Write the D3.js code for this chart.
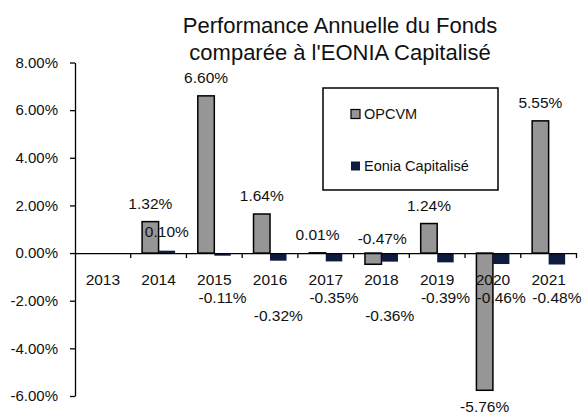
<!DOCTYPE html>
<html>
<head>
<meta charset="utf-8">
<script src="https://cdn.jsdelivr.net/npm/d3@7"></script>
<style>
  body { margin: 0; background: #fff; }
  svg { display: block; font-family: "Liberation Sans", Arial, sans-serif; }
</style>
</head>
<body>
<svg id="chart"></svg>
<script>
// Data
const years = ["2013", "2014", "2015", "2016", "2017", "2018", "2019", "2020", "2021"];
const opcvm = [null, 1.32, 6.60, 1.64, 0.01, -0.47, 1.24, -5.76, 5.55];
const eonia = [null, 0.10, -0.11, -0.32, -0.35, -0.36, -0.39, -0.46, -0.48];
const yTicks = [-6, -4, -2, 0, 2, 4, 6, 8];
const seriesNames = ["OPCVM", "Eonia Capitalisé"];
const titleLines = ["Performance Annuelle du Fonds", "comparée à l'EONIA Capitalisé"];

// hand-moved labels in the original
const opcvmLabelAboveZero = ["2018"];
const eoniaLabelLower = ["2016", "2018"];

const width = 588, height = 412;
const colors = ["#969696", "#0d1b3e"];

const svg = d3.select("#chart")
    .attr("width", width)
    .attr("height", height);

const y = d3.scaleLinear().domain([-6, 8]).range([396, 62.5]);
const x = d3.scaleBand().domain(years).range([75, 576.5]).paddingInner(0).paddingOuter(0);
const barW = 16.5;
const groupOffset = (x.bandwidth() - 2 * barW) / 2;

// title
svg.selectAll(".title")
    .data(titleLines)
    .enter()
    .append("text")
    .attr("class", "title")
    .attr("x", 340)
    .attr("y", (d, i) => 33 + i * 27)
    .attr("text-anchor", "middle")
    .style("font-size", "22px")
    .attr("fill", "#111")
    .text(d => d);

// y axis
const yAxis = d3.axisLeft(y)
    .tickValues(yTicks)
    .tickSize(5)
    .tickSizeOuter(0)
    .tickFormat(d => d.toFixed(2) + "%");

const gy = svg.append("g")
    .attr("transform", "translate(75,0)")
    .call(yAxis);
gy.select(".domain").attr("stroke", "#000").attr("stroke-width", 1.3);
gy.selectAll(".tick line").attr("stroke", "#000").attr("stroke-width", 1.3);
gy.selectAll(".tick text")
    .attr("x", -17)
    .style("font-size", "15px")
    .style("font-family", "'Liberation Sans', Arial, sans-serif")
    .attr("fill", "#111");

// bars
const rows = years.map((yr, i) => ({ year: yr, vals: [opcvm[i], eonia[i]] }));

const groups = svg.selectAll(".grp")
    .data(rows)
    .enter()
    .append("g")
    .attr("class", "grp")
    .attr("transform", d => `translate(${x(d.year) + groupOffset},0)`);

groups.selectAll("rect")
    .data(d => d.vals.map((v, k) => ({ v, k })).filter(e => e.v !== null))
    .enter()
    .append("rect")
    .attr("x", d => d.k * barW)
    .attr("y", d => y(Math.max(0, d.v)))
    .attr("width", barW)
    .attr("height", d => Math.abs(y(d.v) - y(0)))
    .attr("fill", d => colors[d.k])
    .attr("stroke", d => d.k === 0 ? "#000" : "none")
    .attr("stroke-width", 1.5);

// x axis on zero line
const xAxis = d3.axisBottom(x).tickSize(0).tickSizeOuter(0).tickPadding(0);
const gx = svg.append("g")
    .attr("transform", `translate(0,${y(0)})`)
    .call(xAxis);
gx.select(".domain").attr("stroke", "#000").attr("stroke-width", 1.3);
gx.selectAll(".tick text")
    .attr("y", 27)
    .attr("dy", "0.35em")
    .style("font-size", "15.5px")
    .style("font-family", "'Liberation Sans', Arial, sans-serif")
    .attr("fill", "#111");

// category separators
const bounds = years.map(yr => x(yr)).concat([x.range()[1]]).slice(1);
gx.selectAll(".sep")
    .data(bounds)
    .enter()
    .append("line")
    .attr("class", "sep")
    .attr("x1", d => d).attr("x2", d => d)
    .attr("y1", 0).attr("y2", 5)
    .attr("stroke", "#000")
    .attr("stroke-width", 1.3);

// data labels
const fmt = v => v.toFixed(2) + "%";
function labelY(d) {
    if (d.k === 0) {
        if (opcvmLabelAboveZero.includes(d.year)) return y(0) - 14;
        return d.v >= 0 ? y(d.v) - 18 : y(d.v) + 16;
    }
    if (d.v >= 0) return y(d.v) - 19;
    return y(0) + (eoniaLabelLower.includes(d.year) ? 63 : 45);
}
function labelX(d) {
    const cx = d.k * barW + barW / 2;
    return (d.k === 0 && opcvmLabelAboveZero.includes(d.year)) ? cx + 9 : cx;
}

groups.selectAll(".lbl")
    .data(d => d.vals.map((v, k) => ({ v, k, year: d.year })).filter(e => e.v !== null))
    .enter()
    .append("text")
    .attr("class", "lbl")
    .attr("x", labelX)
    .attr("y", labelY)
    .attr("dy", "0.35em")
    .attr("text-anchor", "middle")
    .attr("fill", "#111")
    .style("font-size", "15.5px")
    .text(d => fmt(d.v));

// legend
const legend = svg.append("g").attr("transform", "translate(323,88)");
legend.append("rect")
    .attr("width", 175)
    .attr("height", 102)
    .attr("fill", "#fff")
    .attr("stroke", "#000")
    .attr("stroke-width", 1.5);

const items = legend.selectAll(".item")
    .data(seriesNames)
    .enter()
    .append("g")
    .attr("class", "item")
    .attr("transform", (d, i) => `translate(28,${26 + i * 52})`);

items.append("rect")
    .attr("x", 0).attr("y", -4.5)
    .attr("width", 9).attr("height", 9)
    .attr("fill", (d, i) => colors[i])
    .attr("stroke", (d, i) => i === 0 ? "#000" : "none")
    .attr("stroke-width", 1.2);

items.append("text")
    .attr("x", 13)
    .attr("dy", "0.35em")
    .attr("fill", "#111")
    .style("font-size", "14.5px")
    .text(d => d);
</script>
</body>
</html>
